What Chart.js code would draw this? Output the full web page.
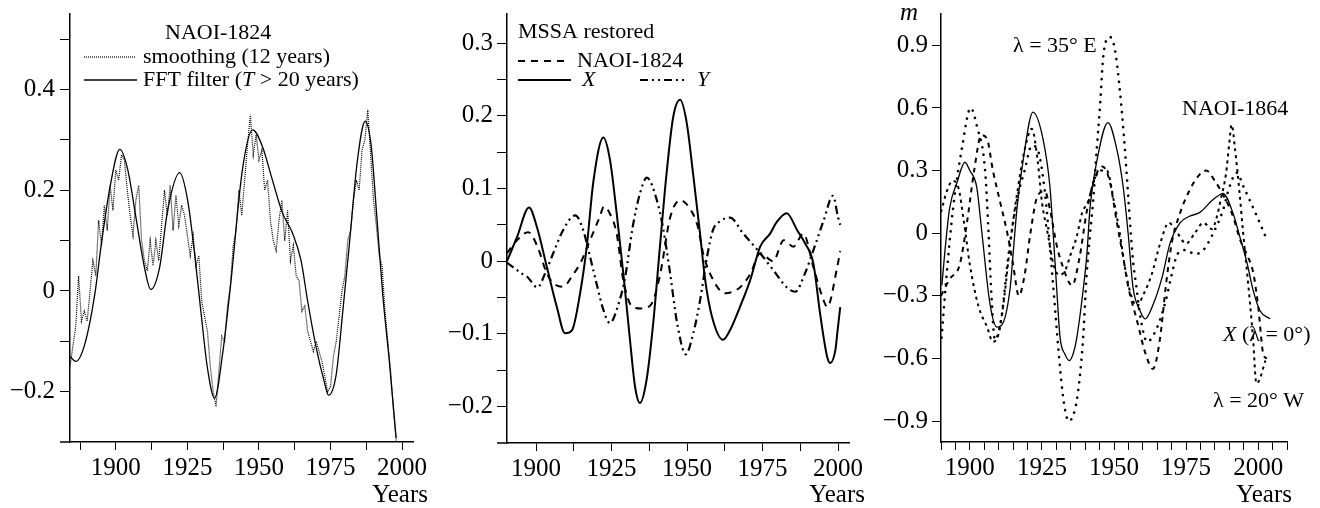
<!DOCTYPE html>
<html>
<head>
<meta charset="utf-8">
<script src="https://cdn.jsdelivr.net/npm/chart.js@4.4.1/dist/chart.umd.min.js"></script>
<style>
body { margin: 0; background: #fff; }
#wrap { display: flex; width: 1320px; height: 508px; }
canvas { display: block; }
</style>
</head>
<body>
<div id="wrap">
  <canvas id="c1" width="440" height="508"></canvas>
  <canvas id="c2" width="440" height="508"></canvas>
  <canvas id="c3" width="440" height="508"></canvas>
</div>
<script>
var FONT = "'Liberation Serif', 'Times New Roman', serif";

// ---- panel 1: NAOI-1824 ----
var fftYears = [1884, 1886, 1889.2, 1892.7, 1894.8, 1898, 1901.4, 1904.2, 1907, 1910, 1912.2, 1915.3, 1918.1, 1922.3, 1925.1, 1927.5, 1929.7, 1932, 1934.5, 1937.3, 1940, 1944.2, 1947.8, 1951.2, 1954.7, 1958.2, 1961.7, 1964.7, 1967, 1970, 1972.8, 1974.3, 1977, 1979.2, 1981.5, 1984.4, 1987.1, 1989.2, 1991, 1993.2, 1995.5, 1997.9];
var fftValues = [-0.13, -0.14, -0.105, -0.005, 0.087, 0.207, 0.281, 0.24, 0.147, 0.047, 0.003, 0.047, 0.16, 0.235, 0.18, 0.075, -0.04, -0.153, -0.213, -0.125, 0.007, 0.24, 0.32, 0.287, 0.22, 0.155, 0.115, 0.06, -0.02, -0.113, -0.18, -0.207, -0.165, -0.045, 0.088, 0.26, 0.337, 0.288, 0.16, -0.005, -0.138, -0.292];
var smoothYears = [1884, 1885, 1886, 1887, 1888, 1889,
  1890, 1891, 1892, 1893, 1894, 1895, 1896, 1897, 1898, 1899,
  1900, 1901, 1902, 1903, 1904, 1905, 1906, 1907, 1908, 1909,
  1910, 1911, 1912, 1913, 1914, 1915, 1916, 1917, 1918, 1919,
  1920, 1921, 1922, 1923, 1924, 1925, 1926, 1927, 1928, 1929,
  1930, 1931, 1932, 1933, 1934, 1935, 1936, 1937, 1938, 1939,
  1940, 1941, 1942, 1943, 1944, 1945, 1946, 1947, 1948, 1949,
  1950, 1951, 1952, 1953, 1954, 1955, 1956, 1957, 1958, 1959,
  1960, 1961, 1962, 1963, 1964, 1965, 1966, 1967, 1968, 1969,
  1970, 1971, 1972, 1973, 1974, 1975, 1976, 1977, 1978, 1979,
  1980, 1981, 1982, 1983, 1984, 1985, 1986, 1987, 1988, 1989,
  1990, 1991, 1992, 1993, 1994, 1995, 1996, 1997, 1998];
var smoothValues = [-0.15, -0.11, -0.07, 0.03, -0.06, -0.04,
  -0.06, 0.00, 0.06, 0.03, 0.14, 0.09, 0.17, 0.12, 0.21, 0.16,
  0.24, 0.22, 0.27, 0.26, 0.20, 0.15, 0.11, 0.18, 0.21, 0.10,
  0.06, 0.04, 0.10, 0.05, 0.10, 0.06, 0.13, 0.20, 0.15, 0.21,
  0.12, 0.19, 0.13, 0.17, 0.15, 0.11, 0.07, 0.11, 0.05, 0.07,
  -0.02, -0.05, -0.08, -0.15, -0.20, -0.23, -0.16, -0.09, -0.10, -0.03,
  0.01, 0.09, 0.12, 0.20, 0.15, 0.22, 0.29, 0.35, 0.27, 0.31,
  0.26, 0.28, 0.20, 0.22, 0.14, 0.10, 0.08, 0.14, 0.18, 0.10,
  0.16, 0.06, 0.09, 0.03, 0.02, -0.04, -0.03, -0.08, -0.10, -0.12,
  -0.10, -0.12, -0.14, -0.17, -0.20, -0.19, -0.13, -0.10, -0.05, 0.00,
  0.03, 0.10, 0.12, 0.18, 0.22, 0.20, 0.28, 0.30, 0.36, 0.27,
  0.18, 0.13, 0.07, 0.05, -0.04, -0.10, -0.16, -0.24, -0.30];
var xTicks1 = [1887.5, 1900, 1912.5, 1925, 1937.5, 1950, 1962.5, 1975, 1987.5, 2000];
var yTicks1 = [-0.2, -0.1, 0, 0.1, 0.2, 0.3, 0.4, 0.5];
var yLabels1 = [-0.2, 0, 0.2, 0.4];

// ---- panel 2: MSSA restored ----
var xYears2 = [1890.4, 1893.7, 1897.7, 1900.3, 1903.6, 1906.9, 1909.6, 1911.9, 1914.6, 1916.8, 1919, 1922.3, 1924.5, 1926.7, 1928.9, 1931.1, 1932.8, 1934.4, 1936.6, 1938.8, 1941, 1943.2, 1945.4, 1947.7, 1949.9, 1952, 1954.3, 1956, 1958.3, 1961.9, 1964.2, 1967.5, 1970.9, 1974.2, 1977.5, 1979.7, 1983, 1986.4, 1989, 1991.8, 1994, 1996.4, 1997.4, 1999.1, 1999.7, 2000.7];
var xValues2 = [0, 0.033, 0.074, 0.047, -0.008, -0.063, -0.099, -0.095, -0.044, 0.02, 0.11, 0.17, 0.139, 0.066, -0.017, -0.108, -0.173, -0.195, -0.163, -0.085, 0.019, 0.12, 0.198, 0.222, 0.19, 0.12, 0.038, -0.026, -0.077, -0.108, -0.095, -0.063, -0.026, 0.02, 0.038, 0.054, 0.066, 0.043, 0.025, -0.003, -0.071, -0.132, -0.14, -0.122, -0.1, -0.063];
var naoYears2 = [1890.4, 1894, 1897.4, 1900.5, 1903.6, 1905.7, 1909, 1912, 1915, 1917, 1921, 1922.5, 1924.5, 1926.7, 1928.9, 1932, 1935, 1938, 1941, 1944.4, 1947.7, 1950.5, 1953.6, 1955.3, 1957.6, 1962.6, 1967.5, 1971, 1974.2, 1978.5, 1982, 1985.2, 1988.5, 1991.8, 1995.2, 1996.4, 1999.7, 2000.7];
var naoValues2 = [0.011, 0.03, 0.04, 0.02, -0.017, -0.03, -0.035, -0.02, 0.0, 0.02, 0.06, 0.075, 0.065, 0.038, -0.026, -0.063, -0.065, -0.06, -0.02, 0.06, 0.084, 0.075, 0.047, 0.011, -0.017, -0.044, -0.036, -0.017, 0.011, 0.0, 0.029, 0.02, 0.038, -0.008, -0.054, -0.063, -0.008, 0.014];
var yYears2 = [1890.4, 1895.7, 1897, 1900.5, 1903, 1905.7, 1909, 1913, 1915.6, 1917.9, 1920, 1922.3, 1924.5, 1927, 1929.5, 1932, 1934.4, 1936.7, 1940, 1942, 1944.4, 1946.7, 1949.6, 1952, 1954.3, 1956.6, 1958.6, 1961, 1964.2, 1968.6, 1974.2, 1978.5, 1983, 1985.8, 1989, 1991.8, 1995.2, 1998.3, 2000, 2000.7];
var yValues2 = [-0.002, -0.018, -0.021, -0.036, -0.017, 0.011, 0.043, 0.063, 0.043, 0.006, -0.03, -0.067, -0.085, -0.063, -0.022, 0.047, 0.093, 0.115, 0.084, 0.047, -0.017, -0.085, -0.128, -0.1, -0.054, 0.006, 0.043, 0.055, 0.06, 0.038, 0.011, -0.012, -0.036, -0.042, -0.017, 0.015, 0.056, 0.09, 0.06, 0.05];
var xTicks2 = [1900, 1912.5, 1925, 1937.5, 1950, 1962.5, 1975, 1987.5, 2000];
var yTicks2 = [-0.2, -0.15, -0.1, -0.05, 0, 0.05, 0.1, 0.15, 0.2, 0.25, 0.3];
var yLabels2 = [-0.2, -0.1, 0, 0.1, 0.2, 0.3];

// ---- panel 3: m by longitude ----
var x0Years3 = [1890.3, 1891.4, 1893, 1895.5, 1898.3, 1900, 1902.4, 1904.2, 1907, 1909.4, 1911.5, 1914, 1915, 1916.4, 1918.5, 1921.9, 1925.4, 1927.8, 1928.9, 1930.1, 1931.3, 1933, 1934.5, 1936, 1937.1, 1939.4, 1940.6, 1941.7, 1944.1, 1947.9, 1951, 1953.2, 1954.9, 1956.6, 1959, 1960.8, 1963.6, 1966.7, 1969.4, 1972.9, 1976, 1979.8, 1984.3, 1987.8, 1991.3, 1993.7, 1996.1, 1998.2, 2000.6, 2004.1];
var x0Values3 = [-0.25, -0.08, 0.12, 0.24, 0.34, 0.3, 0.22, 0.0, -0.34, -0.45, -0.43, -0.26, -0.1, 0.125, 0.35, 0.58, 0.45, 0.22, 0.0, -0.26, -0.5, -0.58, -0.61, -0.57, -0.5, -0.26, -0.1, 0.125, 0.35, 0.53, 0.4, 0.22, 0.0, -0.26, -0.37, -0.41, -0.34, -0.21, -0.05, 0.05, 0.08, 0.1, 0.16, 0.19, 0.095, -0.02, -0.14, -0.27, -0.37, -0.41];
var e35Years3 = [1890.2, 1892, 1894.2, 1897.3, 1900.3, 1902.5, 1905.3, 1906.5, 1907.5, 1908.7, 1911, 1913, 1915, 1917, 1919, 1921.5, 1923.5, 1926, 1928, 1929.5, 1931, 1932.5, 1934.3, 1935.9, 1937.1, 1938.2, 1939.3, 1940.5, 1941.7, 1942.8, 1944, 1945.2, 1946.3, 1948.6, 1950.3, 1952, 1953.8, 1955, 1956.6, 1957.8, 1959, 1961.5, 1965, 1968, 1970, 1972, 1975, 1978, 1981, 1984.4, 1987.8, 1990, 1992.5, 1995, 1997, 1999.6, 2003];
var e35Values3 = [-0.5, -0.19, 0.12, 0.41, 0.6, 0.51, 0.3, 0.0, -0.3, -0.51, -0.4, -0.15, 0.05, 0.2, 0.3, 0.42, 0.4, 0.2, -0.1, -0.35, -0.6, -0.8, -0.9, -0.87, -0.8, -0.68, -0.5, -0.2, 0.0, 0.16, 0.4, 0.62, 0.85, 0.94, 0.88, 0.69, 0.4, 0.16, -0.13, -0.26, -0.39, -0.52, -0.45, -0.32, -0.2, -0.1, -0.08, -0.1, -0.08, 0.0, 0.11, 0.22, 0.29, 0.22, 0.16, 0.08, -0.03];
var w20Years3 = [1890, 1893, 1896.5, 1899, 1901.5, 1904, 1906, 1908, 1910.5, 1913, 1915, 1917, 1919, 1921, 1923.5, 1926, 1928, 1930, 1932, 1935.5, 1938, 1940.5, 1943, 1946, 1948.5, 1951, 1953, 1955, 1958, 1961, 1963.5, 1966, 1968, 1970, 1973, 1976, 1979, 1982, 1985, 1988, 1991.3, 1993.7, 1996, 1998.3, 2000, 2001.8, 2003];
var w20Values3 = [-0.3, -0.22, -0.15, 0.05, 0.3, 0.47, 0.45, 0.3, 0.15, 0.0, -0.15, -0.3, -0.2, 0.0, 0.18, 0.2, 0.1, -0.05, -0.15, -0.25, -0.12, 0.1, 0.25, 0.32, 0.25, 0.05, -0.1, -0.26, -0.42, -0.58, -0.65, -0.5, -0.25, -0.05, 0.1, 0.2, 0.27, 0.3, 0.25, 0.18, 0.08, -0.03, -0.1, -0.19, -0.35, -0.58, -0.6];
var naoYears3 = [1890, 1892, 1894, 1896, 1898, 1900, 1903, 1906, 1908, 1910, 1912, 1914, 1916.5, 1919, 1921.5, 1923.5, 1925, 1927, 1929, 1931, 1933, 1935, 1937, 1939, 1941, 1943, 1945.5, 1947.5, 1950, 1952, 1954, 1956, 1958, 1960, 1963, 1966, 1969, 1972, 1975, 1978, 1981, 1984, 1985.7, 1987, 1988.9, 1989.9, 1990.8, 1992, 1993.5, 1994.8, 1996.1, 1997.2, 1998.2, 1999.4, 2000.5, 2002.5];
var naoValues3 = [0.1, 0.2, 0.25, 0.22, 0.05, -0.15, -0.35, -0.45, -0.52, -0.48, -0.3, -0.05, 0.2, 0.4, 0.5, 0.35, 0.15, 0.0, -0.15, -0.2, -0.18, -0.1, -0.02, 0.1, 0.15, 0.25, 0.3, 0.3, 0.15, 0.0, -0.18, -0.3, -0.35, -0.3, -0.2, -0.05, 0.05, 0.0, -0.05, 0.0, 0.05, 0.02, 0.08, 0.16, 0.29, 0.42, 0.52, 0.4, 0.2, 0.0, -0.18, -0.34, -0.5, -0.72, -0.7, -0.61];
var xTicks3 = [1890, 1895, 1900, 1905, 1910, 1915, 1920, 1925, 1930, 1935, 1940, 1945, 1950, 1955, 1960, 1965, 1970, 1975, 1980, 1985, 1990, 1995, 2000, 2005, 2010];
var yTicks3 = [-0.9, -0.75, -0.6, -0.45, -0.3, -0.15, 0, 0.15, 0.3, 0.45, 0.6, 0.75, 0.9, 1.05];
var yLabels3 = [-0.9, -0.6, -0.3, 0, 0.3, 0.6, 0.9];

var yearLabels = [1900, 1925, 1950, 1975, 2000];

function pts(xs, ys) {
  return xs.map(function (x, i) { return { x: x, y: ys[i] }; });
}
function has(list, v) {
  return list.some(function (a) { return Math.abs(a - v) < 1e-6; });
}
function fmt(v) {
  return v < 0 ? '\u2212' + String(-v) : String(v);
}

function line(data, width, dash, smooth, cap) {
  return {
    data: data,
    borderColor: '#000',
    borderWidth: width,
    borderDash: dash || [],
    borderCapStyle: cap || 'butt',
    pointRadius: 0,
    fill: false,
    cubicInterpolationMode: smooth ? 'monotone' : 'default',
    tension: 0
  };
}

function scales(o) {
  return {
    x: {
      type: 'linear', bounds: 'data', min: o.xMin, max: o.xMax,
      afterBuildTicks: function (s) { s.ticks = o.xTicks.map(function (v) { return { value: v }; }); },
      afterFit: function (s) { s.height = o.xHeight; s.paddingLeft = 0; s.paddingRight = 0; },
      ticks: {
        autoSkip: false, maxRotation: 0, padding: 3, color: '#000',
        font: { family: FONT, size: 25 },
        callback: function (v) { return has(yearLabels, v) ? String(v) : ''; }
      },
      grid: { drawOnChartArea: false, tickLength: 8, color: '#000', lineWidth: 1 },
      border: { color: '#000', width: 1.5 }
    },
    y: {
      type: 'linear', bounds: 'data', min: o.yMin, max: o.yMax,
      afterBuildTicks: function (s) { s.ticks = o.yTicks.map(function (v) { return { value: v }; }); },
      afterFit: function (s) { s.width = o.yWidth; s.paddingTop = 0; s.paddingBottom = 0; },
      ticks: {
        padding: o.yPad, color: '#000',
        font: { family: FONT, size: 25 },
        callback: function (v) { return has(o.yLabels, v) ? fmt(Math.round(v * 100) / 100) : ''; }
      },
      grid: { drawOnChartArea: false, tickLength: o.yTick, color: '#000', lineWidth: 1 },
      border: { color: '#000', width: 1.5 }
    }
  };
}

// text, legend samples and the short stub of the x axis left of the y axis
function notes(items, stub) {
  return {
    id: 'notes',
    afterDraw: function (chart) {
      var ctx = chart.ctx, a = chart.chartArea;
      ctx.save();
      ctx.fillStyle = '#000';
      ctx.strokeStyle = '#000';
      if (stub) {
        ctx.lineWidth = 1.5;
        ctx.beginPath();
        ctx.moveTo(a.left - stub, a.bottom);
        ctx.lineTo(a.left, a.bottom);
        ctx.stroke();
      }
      items.forEach(function (it) {
        if (it.line) {
          ctx.setLineDash(it.dash || []);
          ctx.lineWidth = it.width || 1;
          ctx.lineCap = it.cap || 'butt';
          ctx.beginPath();
          ctx.moveTo(it.line[0], it.line[2]);
          ctx.lineTo(it.line[1], it.line[2]);
          ctx.stroke();
          ctx.setLineDash([]);
          return;
        }
        var runs = it.runs || [[it.text, false]];
        var size = it.size || 22;
        var total = 0;
        ctx.textBaseline = 'alphabetic';
        ctx.textAlign = 'left';
        runs.forEach(function (r) {
          ctx.font = (r[1] ? 'italic ' : '') + size + 'px ' + FONT;
          total += ctx.measureText(r[0]).width;
        });
        var x = it.align === 'right' ? it.x - total : it.x;
        runs.forEach(function (r) {
          ctx.font = (r[1] ? 'italic ' : '') + size + 'px ' + FONT;
          ctx.fillText(r[0], x, it.y);
          x += ctx.measureText(r[0]).width;
        });
      });
      ctx.restore();
    }
  };
}

function make(id, datasets, sc, pad, plugin) {
  return new Chart(document.getElementById(id), {
    type: 'line',
    data: { datasets: datasets },
    options: {
      responsive: false, animation: false, devicePixelRatio: 1,
      layout: { padding: pad },
      plugins: { legend: { display: false }, tooltip: { enabled: false } },
      scales: sc
    },
    plugins: [plugin]
  });
}

make('c1', [
  line(pts(smoothYears, smoothValues), 1.2, [1, 1], false),
  line(pts(fftYears, fftValues), 1.3, [], true)
], scales({ xMin: 1884, xMax: 2003.8, xTicks: xTicks1, xHeight: 66,
  yMin: -0.3, yMax: 0.55, yTicks: yTicks1, yLabels: yLabels1, yWidth: 70, yTick: 10, yPad: 5 }),
  { left: 0, top: 14, right: 27, bottom: 0 },
  notes([
    { text: 'NAOI-1824', x: 165, y: 39 },
    { line: [84, 136, 57], dash: [1, 1], width: 1.2 },
    { text: 'smoothing (12 years)', x: 143, y: 63 },
    { line: [84, 137, 80], width: 1.3 },
    { runs: [['FFT filter (', false], ['T', true], [' > 20 years)', false]], x: 143, y: 86 },
    { text: 'Years', x: 428, y: 502, align: 'right', size: 25 }
  ], 10));

make('c2', [
  line(pts(naoYears2, naoValues2), 2, [7, 6], true),
  line(pts(yYears2, yValues2), 2.2, [8, 4, 2, 4, 2, 4], true),
  line(pts(xYears2, xValues2), 2, [], true)
], scales({ xMin: 1890.4, xMax: 2003.6, xTicks: xTicks2, xHeight: 65,
  yMin: -0.25, yMax: 0.34, yTicks: yTicks2, yLabels: yLabels2, yWidth: 67, yTick: 10, yPad: 4 }),
  { left: 0, top: 14, right: 31, bottom: 0 },
  notes([
    { text: 'MSSA restored', x: 78, y: 38 },
    { line: [78, 127, 61], dash: [7, 6], width: 2 },
    { text: 'NAOI-1824', x: 137, y: 67 },
    { line: [78, 131, 80], width: 2 },
    { runs: [['X', true]], x: 142, y: 86 },
    { line: [200, 248, 80], dash: [8, 4, 2, 4, 2, 4], width: 2.2 },
    { runs: [['Y', true]], x: 257, y: 86 },
    { text: 'Years', x: 425, y: 502, align: 'right', size: 25 }
  ], 10));

make('c3', [
  line(pts(e35Years3, e35Values3), 2.6, [0.1, 7.5], true, 'round'),
  line(pts(w20Years3, w20Values3), 2, [5, 5], true),
  line(pts(naoYears3, naoValues3), 2, [3, 4], true),
  line(pts(x0Years3, x0Values3), 1.3, [], true)
], scales({ xMin: 1890, xMax: 2010, xTicks: xTicks3, xHeight: 66,
  yMin: -1.0, yMax: 1.05, yTicks: yTicks3, yLabels: yLabels3, yWidth: 61, yTick: 9, yPad: 4 }),
  { left: 0, top: 14, right: 33, bottom: 0 },
  notes([
    { runs: [['m', true]], x: 20, y: 20, size: 25 },
    { text: '\u03bb = 35\u00b0 E', x: 133, y: 52 },
    { text: 'NAOI-1864', x: 302, y: 115 },
    { runs: [['X', true], [' (\u03bb = 0\u00b0)', false]], x: 343, y: 341 },
    { text: '\u03bb = 20\u00b0 W', x: 333, y: 407 },
    { text: 'Years', x: 412, y: 502, align: 'right', size: 25 }
  ], 0));
</script>
</body>
</html>
